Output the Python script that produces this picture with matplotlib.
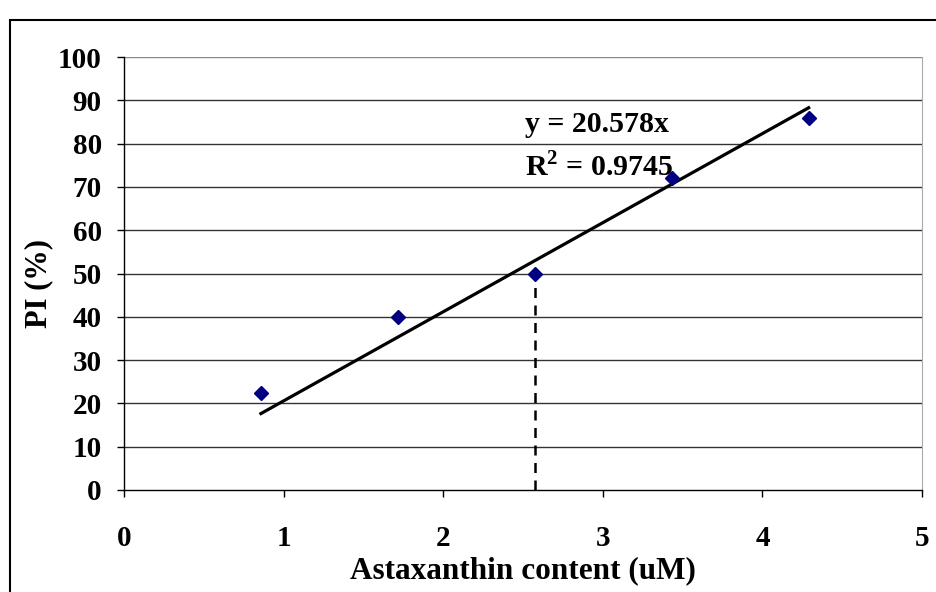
import matplotlib
matplotlib.use("Agg")
import matplotlib.pyplot as plt
from matplotlib.patches import Rectangle

conc = [0.858, 1.716, 2.574, 3.432, 4.29]
pi_vals = [22.5, 40, 50, 72, 86]
slope = 20.578
r2 = 0.9745
ic50_x = 2.574
ic50_y = 50
x_ticks = [0, 1, 2, 3, 4, 5]
y_ticks = list(range(0, 101, 10))

plt.rcParams['font.family'] = ['Liberation Serif', 'DejaVu Serif']
plt.rcParams['font.weight'] = 'bold'
plt.rcParams['mathtext.fontset'] = 'custom'
plt.rcParams['mathtext.rm'] = 'Liberation Serif:bold'
plt.rcParams['mathtext.bf'] = 'Liberation Serif:bold'

fig = plt.figure(figsize=(9.37, 5.92), dpi=100)
ax = fig.add_axes([124/937, 1-490/592, (922-124)/937, (490-57)/592])

for yv in y_ticks[1:]:
    ax.axhline(yv, color='#333333' if yv < 100 else '#888888', lw=1.0, zorder=1)

ax.plot([ic50_x, ic50_x], [0, ic50_y], color='black', lw=1.8, ls=(0, (4, 3)), zorder=2)
xf = [conc[0], conc[-1]]
ax.plot(xf, [slope * v for v in xf], color='black', lw=2.3, zorder=3)
ax.plot(conc, pi_vals, ls='none', marker='D', color='#000080', ms=7.5, zorder=4)

ax.set_xlim(0, 5)
ax.set_ylim(0, 100)
ax.set_xticks(x_ticks)
ax.set_yticks(y_ticks)
ax.tick_params(axis='x', direction='out', length=5, width=1, pad=20, labelsize=21)
ax.tick_params(axis='y', direction='out', length=5, width=1, pad=11, labelsize=21)
for lab in ax.get_xticklabels() + ax.get_yticklabels():
    lab.set_fontweight('bold')
ax.spines['top'].set_visible(False)
ax.spines['right'].set_color('#aaaaaa')
ax.spines['left'].set_linewidth(1.0)
ax.spines['bottom'].set_linewidth(1.0)

ax.set_xlabel('Astaxanthin content (uM)', fontsize=22.5, fontweight='bold')
ax.xaxis.set_label_coords(0.5, -(571 - 490) / 433)
ax.xaxis.label.set_va('center')
ax.set_ylabel('PI (%)', fontsize=22, fontweight='bold')
ax.yaxis.set_label_coords((39 - 124) / 798, (490 - 283) / 433)
ax.yaxis.label.set_va('center')

ax.text(2.51, 84.5, 'y = %.3fx' % slope, fontsize=21.5, fontweight='bold', va='center', ha='left')
ax.text(2.51, 74.5, 'R$^{2}$ = %.4f' % r2, fontsize=21.5, fontweight='bold', va='center', ha='left')

fig.patches.append(Rectangle((10/937, -0.05), 1.2, 1 - 20/592 + 0.05, transform=fig.transFigure,
                             fill=False, ec='black', lw=1.5))

fig.savefig('out.png', dpi=100)
